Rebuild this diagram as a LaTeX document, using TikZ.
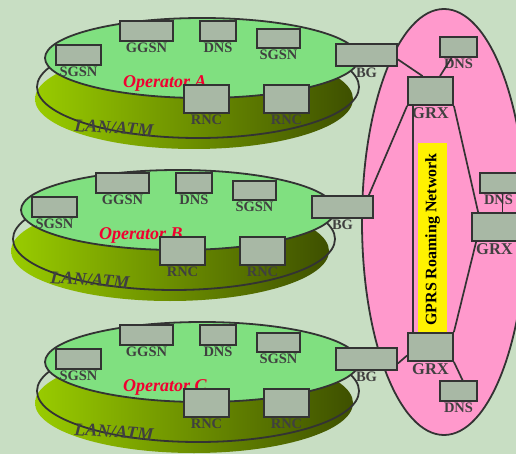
\documentclass[tikz,border=0pt]{standalone}
\usepackage{fontspec}
\setmainfont{Liberation Serif}
\usetikzlibrary{positioning,calc}

\definecolor{bgpaper}{RGB}{200,222,195}
\definecolor{lanfill}{RGB}{128,224,128}
\definecolor{discleft}{RGB}{153,204,0}
\definecolor{discright}{RGB}{62,80,0}
\definecolor{roampink}{RGB}{255,153,204}
\definecolor{boxfill}{RGB}{168,184,165}
\definecolor{edge}{RGB}{51,51,51}
\definecolor{lbltext}{RGB}{64,64,64}
\definecolor{opred}{RGB}{240,0,48}

\begin{document}
\begin{tikzpicture}[
    x=1pt, y=-1pt,
    every node/.style={font=\bfseries\fontsize{14.5}{16}\selectfont},
    box/.style={rectangle, draw=edge, fill=boxfill, line width=1.8pt, inner sep=0pt},
    lbl/.style={text=lbltext, inner sep=0pt, label distance=1pt},
    grxlbl/.style={lbl, font=\bfseries\fontsize{16.5}{18}\selectfont},
    wire/.style={draw=edge, line width=1.7pt},
    rim/.style={draw=edge, line width=1.8pt},
    optxt/.style={text=opred, font=\bfseries\itshape\fontsize{18}{20}\selectfont},
    lantxt/.style={text=lbltext, font=\bfseries\itshape\fontsize{18}{20}\selectfont, rotate=-4},
    banner/.style={fill=yellow, inner sep=0pt, minimum width=193pt, minimum height=29pt, rotate=90,
                   font=\bfseries\fontsize{16}{18}\selectfont}
]
  \useasboundingbox (0,0) rectangle (516,454);
  \clip (0,0) rectangle (516,454);
  \fill[bgpaper] (0,0) rectangle (516,454);

  % roaming network
  \draw[rim, fill=roampink] (444,222) ellipse [x radius=82, y radius=213];

  % the three operator platforms
  \foreach \op/\dx/\dy in {A/0/0, B/-24/152, C/0/304}{
    \begin{scope}[shift={(\dx,\dy)}]
      \shade[left color=discleft, right color=discright] (194,99) ellipse [x radius=159, y radius=50];
      \draw[rim] (198,87) ellipse [x radius=161, y radius=51];
      \draw[rim, fill=lanfill] (202,58) ellipse [x radius=157, y radius=40];

      \node[box, minimum width=45pt, minimum height=20pt, label={[lbl]below:SGSN}] (sgsnl\op) at (78.5,55) {};
      \node[box, minimum width=53pt, minimum height=20pt, label={[lbl]below:GGSN}] (ggsn\op) at (146.5,31) {};
      \node[box, minimum width=36pt, minimum height=20pt, label={[lbl]below:DNS}] (dns\op) at (218,31) {};
      \node[box, minimum width=43pt, minimum height=19pt, label={[lbl]below:SGSN}] (sgsnr\op) at (278.5,38.5) {};
      \node[box, minimum width=61pt, minimum height=22pt, label={[lbl]below:BG}] (bg\op) at (366.5,55) {};
      \node[optxt] (op\op) at (165,83) {Operator \op};
      \node[box, minimum width=45pt, minimum height=28pt, label={[lbl]below:RNC}] (rncl\op) at (206.5,99) {};
      \node[box, minimum width=45pt, minimum height=28pt, label={[lbl]below:RNC}] (rncr\op) at (286.5,99) {};
      \node[lantxt] (lan\op) at (114,128) {LAN/ATM};
    \end{scope}
  }

  % GRX side
  \node[banner] (roam) at (432.5,239.5) {GPRS Roaming Network};
  \node[box, minimum width=37pt, minimum height=20pt, label={[lbl]below:DNS}] (dnsT) at (458.5,47) {};
  \node[box, minimum width=45pt, minimum height=28pt, label={[grxlbl]below:GRX}] (grxT) at (430.5,91) {};
  \node[box, minimum width=37pt, minimum height=20pt, label={[lbl]below:DNS}] (dnsR) at (498.5,183) {};
  \node[box, minimum width=45pt, minimum height=28pt, label={[grxlbl]below:GRX}] (grxR) at (494.5,227) {};
  \node[box, minimum width=45pt, minimum height=28pt, label={[grxlbl]below:GRX}] (grxB) at (430.5,347) {};
  \node[box, minimum width=37pt, minimum height=20pt, label={[lbl]below:DNS}] (dnsB) at (458.5,391) {};

  \draw[wire] (bgA.-8) -- (grxT.118);
  \draw[wire] (dnsT) -- (grxT);
  \draw[wire] (grxT.south west) -- ([xshift=-5pt]bgB.north east);
  \draw[wire] ([xshift=6pt]grxT.south west) -- ([xshift=6pt]grxB.north west);
  \draw[wire] (grxT.south east) -- ([xshift=7pt]grxR.north west);
  \draw[wire] ([xshift=4pt]dnsR.south) -- ([xshift=4pt]dnsR.south |- grxR.north);
  \draw[wire] (grxB.north east) -- ([xshift=5pt]grxR.south west);
  \draw[wire] (bgC.-8) -- (grxB.-160);
  \draw[wire] (grxB.south east) -- ([xshift=4pt]dnsB.north);
\end{tikzpicture}
\end{document}
